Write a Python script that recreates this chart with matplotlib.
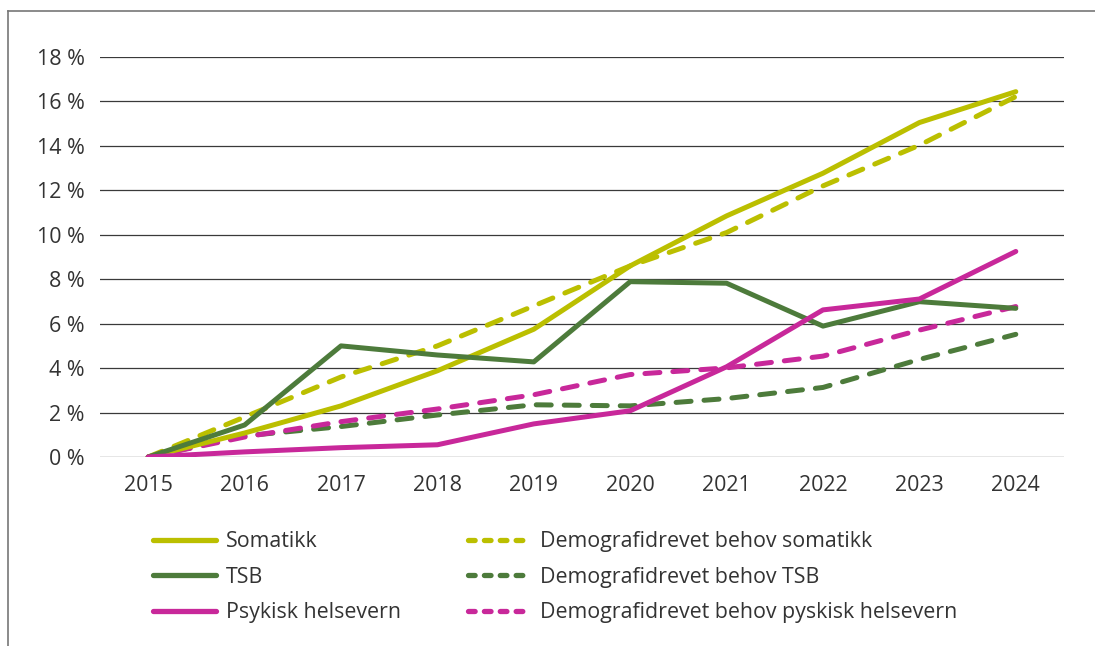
import matplotlib.pyplot as plt
from matplotlib.lines import Line2D

plt.rcParams['font.family'] = ['Open Sans', 'DejaVu Sans']

years = ['2015', '2016', '2017', '2018', '2019', '2020', '2021', '2022', '2023', '2024']

somatikk = [0, 1.08, 2.3, 3.88, 5.75, 8.6, 10.85, 12.77, 15.05, 16.44]
tsb = [0, 1.44, 5.0, 4.59, 4.28, 7.89, 7.82, 5.89, 6.99, 6.69]
psyk = [0, 0.23, 0.42, 0.55, 1.49, 2.08, 4.06, 6.62, 7.11, 9.25]

demo_somatikk = [0, 1.8, 3.6, 5.0, 6.8, 8.6, 10.1, 12.2, 14.03, 16.22]
demo_tsb = [0, 0.95, 1.37, 1.89, 2.35, 2.3, 2.63, 3.13, 4.39, 5.52]
demo_psyk = [0, 0.9, 1.59, 2.16, 2.8, 3.71, 4.01, 4.54, 5.71, 6.77]

labels = ['Somatikk', 'Demografidrevet behov somatikk',
          'TSB', 'Demografidrevet behov TSB',
          'Psykisk helsevern', 'Demografidrevet behov pyskisk helsevern']

c_som = '#BBBF00'
c_tsb = '#4D7B3B'
c_psyk = '#C8289A'

fig = plt.figure(figsize=(10.95, 6.46), dpi=100)
ax = fig.add_axes([100 / 1095, 1 - 457 / 646, 964 / 1095, 400 / 646])

x = list(range(len(years)))
lw = 3.6
dash = (0, (3.0, 2.6))

ax.plot(x, demo_somatikk, color=c_som, lw=lw, ls=dash, dash_capstyle='round', zorder=3)
ax.plot(x, demo_tsb, color=c_tsb, lw=lw, ls=dash, dash_capstyle='round', zorder=3)
ax.plot(x, demo_psyk, color=c_psyk, lw=lw, ls=dash, dash_capstyle='round', zorder=3)
ax.plot(x, somatikk, color=c_som, lw=lw, solid_capstyle='round', zorder=4)
ax.plot(x, tsb, color=c_tsb, lw=lw, solid_capstyle='round', zorder=4)
ax.plot(x, psyk, color=c_psyk, lw=lw, solid_capstyle='round', zorder=4)

ax.set_xlim(-0.5, len(years) - 0.5)
ax.set_ylim(0, 18)
ax.set_yticks(range(0, 19, 2))
ax.set_yticklabels([f'{v} %' for v in range(0, 19, 2)])
ax.set_xticks(x)
ax.set_xticklabels(years)
ax.grid(axis='y', color='#3a3a3a', lw=0.9)
ax.set_axisbelow(True)
for s in ax.spines.values():
    s.set_visible(False)
ax.tick_params(length=0, labelsize=15.4, colors='#333333', pad=11)
ax.tick_params(axis='x', pad=13)

# legend handles
leg_lw = 3.8
leg_dash = (0, (1.26, 1.75))
handles = [
    Line2D([], [], color=c_som, lw=leg_lw, solid_capstyle='round'),
    Line2D([], [], color=c_som, lw=leg_lw, ls=leg_dash, dash_capstyle='round'),
    Line2D([], [], color=c_tsb, lw=leg_lw, solid_capstyle='round'),
    Line2D([], [], color=c_tsb, lw=leg_lw, ls=leg_dash, dash_capstyle='round'),
    Line2D([], [], color=c_psyk, lw=leg_lw, solid_capstyle='round'),
    Line2D([], [], color=c_psyk, lw=leg_lw, ls=leg_dash, dash_capstyle='round'),
]
# order for column-wise filling
order = [0, 2, 4, 1, 3, 5]
leg = fig.legend([handles[i] for i in order], [labels[i] for i in order],
                 ncol=2, loc='upper left', bbox_to_anchor=(153 / 1095, 1 - 531 / 646),
                 frameon=False, fontsize=15.4, handlelength=2.95, handletextpad=0.45,
                 columnspacing=3.13, labelspacing=0.68, borderpad=0, borderaxespad=0)
for t in leg.get_texts():
    t.set_color('#333333')

# outer frame (left and top)
fig.add_artist(Line2D([8 / 1095, 8 / 1095], [0, 1 - 11 / 646], color='#777777', lw=1.2,
                      transform=fig.transFigure))
fig.add_artist(Line2D([8 / 1095, 1], [1 - 11 / 646, 1 - 11 / 646], color='#777777', lw=1.2,
                      transform=fig.transFigure))

fig.savefig('out.png', dpi=100)
